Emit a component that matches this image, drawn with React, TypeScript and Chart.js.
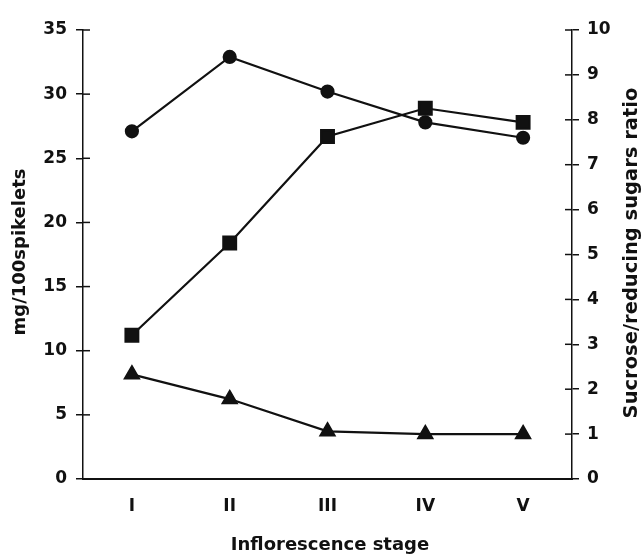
import React, { useEffect, useRef } from "react";
import { Chart, registerables } from "chart.js";

Chart.register(...registerables);

const stages = ["I", "II", "III", "IV", "V"];
const circleSeries = [27.1, 32.9, 30.2, 27.8, 26.6];
const squareSeries = [11.2, 18.4, 26.7, 28.9, 27.8];
const triangleRatio = [2.33, 1.78, 1.06, 1.0, 1.0];
const leftTicks = [0, 5, 10, 15, 20, 25, 30, 35];
const rightTicks = [0, 1, 2, 3, 4, 5, 6, 7, 8, 9, 10];

const FONT = "'DejaVu Sans', Arial, sans-serif";

const decorPlugin = {
  id: "decor",
  afterDraw(chart: any) {
    const ctx = chart.ctx;
    const { chartArea } = chart;
    const yl = chart.scales.y;
    const yr = chart.scales.y1;
    ctx.save();
    ctx.strokeStyle = "#111";
    ctx.lineWidth = 1.5;
    leftTicks.forEach((v) => {
      const py = yl.getPixelForValue(v);
      ctx.beginPath();
      ctx.moveTo(chartArea.left, py);
      ctx.lineTo(chartArea.left + 7, py);
      ctx.stroke();
    });
    rightTicks.forEach((v) => {
      const py = yr.getPixelForValue(v);
      ctx.beginPath();
      ctx.moveTo(chartArea.right, py);
      ctx.lineTo(chartArea.right - 7, py);
      ctx.stroke();
    });
    ctx.fillStyle = "#111";
    ctx.font = `bold 18px ${FONT}`;
    ctx.textAlign = "center";
    ctx.textBaseline = "middle";
    ctx.fillText("Inflorescence stage", 330, 545);
    ctx.save();
    ctx.translate(20, 252);
    ctx.rotate(-Math.PI / 2);
    ctx.fillText("mg/100spikelets", 0, 0);
    ctx.restore();
    ctx.font = `bold 19.5px ${FONT}`;
    ctx.save();
    ctx.translate(632, 253);
    ctx.rotate(-Math.PI / 2);
    ctx.fillText("Sucrose/reducing sugars ratio", 0, 0);
    ctx.restore();
    ctx.restore();
  },
};

export default function App() {
  const ref = useRef<HTMLCanvasElement>(null);
  useEffect(() => {
    document.body.style.margin = "0";
    const canvas = ref.current!;
    const common = {
      borderColor: "#111",
      backgroundColor: "#111",
      pointBackgroundColor: "#111",
      pointBorderColor: "#111",
      borderWidth: 2.2,
      fill: false,
      tension: 0,
    };
    const tickFont = { family: FONT, size: 17, weight: "bold" as const };
    const chart = new Chart(canvas, {
      type: "line",
      data: {
        labels: stages,
        datasets: [
          { ...common, label: "circles", data: circleSeries, yAxisID: "y", pointStyle: "circle", pointRadius: 6 },
          { ...common, label: "squares", data: squareSeries, yAxisID: "y", pointStyle: "rect", pointRadius: 9 },
          { ...common, label: "triangles", data: triangleRatio, yAxisID: "y1", pointStyle: "triangle", pointRadius: 8 },
        ],
      },
      plugins: [decorPlugin],
      options: {
        responsive: false,
        animation: false,
        layout: { padding: { top: 30, bottom: 0, left: 0, right: 0 } },
        plugins: { legend: { display: false }, tooltip: { enabled: false } },
        scales: {
          x: {
            type: "category",
            offset: true,
            grid: { display: true, drawOnChartArea: false, drawTicks: false, color: "#111" },
            border: { display: true, color: "#111", width: 2 },
            ticks: { color: "#111", font: tickFont, padding: 17 },
            afterFit: (s: any) => {
              s.height = 76;
            },
          },
          y: {
            position: "left",
            min: 0,
            max: 35,
            ticks: { stepSize: 5, color: "#111", font: tickFont, padding: 9 },
            grid: { drawOnChartArea: false, tickLength: 7, color: "#111", lineWidth: 1.5 },
            border: { display: true, color: "#111", width: 1.5 },
            afterFit: (s: any) => {
              s.width = 83;
            },
          },
          y1: {
            position: "right",
            min: 0,
            max: 10,
            ticks: { stepSize: 1, color: "#111", font: tickFont, padding: 8 },
            grid: { drawOnChartArea: false, tickLength: 7, color: "#111", lineWidth: 1.5 },
            border: { display: true, color: "#111", width: 1.5 },
            afterFit: (s: any) => {
              s.width = 70;
            },
          },
        },
      },
    });
    return () => chart.destroy();
  }, []);
  return <canvas ref={ref} width={642} height={555} style={{ display: "block" }} />;
}
